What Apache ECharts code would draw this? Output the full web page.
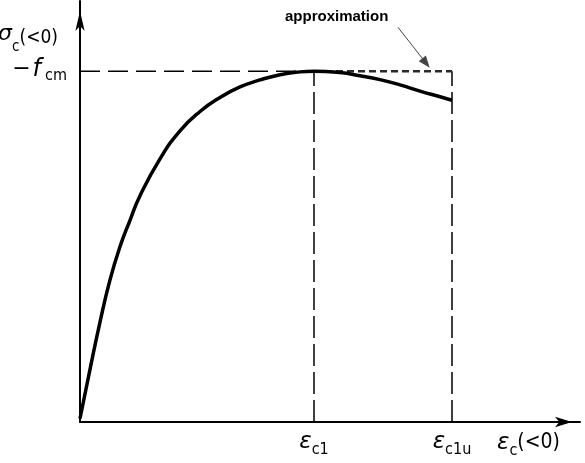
<!DOCTYPE html>
<html>
<head>
<meta charset="utf-8">
<script src="https://cdn.jsdelivr.net/npm/echarts@6/dist/echarts.min.js"></script>
<style>
html,body{margin:0;padding:0;background:#fff;}
#chart{width:585px;height:463px;}
</style>
</head>
<body>
<div id="chart"></div>
<script>
// ---- data (strain in arbitrary units, stress normalised to f_cm) ----
const strain = [0.0, 0.1, 0.2, 0.3, 0.4, 0.5, 0.6, 0.8, 1.0, 1.2, 1.4, 1.6, 1.8, 2.0, 2.2, 2.34, 2.6, 2.8, 3.0, 3.2, 3.4, 3.6, 3.72];
const stress = [0.01, 0.15, 0.285, 0.405, 0.50, 0.575, 0.645, 0.75, 0.83, 0.885, 0.925, 0.955, 0.975, 0.99, 0.998, 1.0, 0.996, 0.987, 0.976, 0.961, 0.943, 0.927, 0.917];
const epsC1 = 2.34;
const epsC1u = 3.72;
const fcm = 1.0;
const xTickValues = [epsC1, epsC1u];
const xTickSubs = ['c1', 'c1u'];
const yTickValues = [fcm];
const annotationText = 'approximation';
const annotationArrow = [[3.18, 1.125], [3.46, 1.023]];

const curve = strain.map((x, i) => [x, stress[i]]);

const subFont = '"DejaVu Sans Condensed","Liberation Sans Narrow","DejaVu Sans",sans-serif';
const chart = echarts.init(document.getElementById('chart'), null, {renderer: 'canvas'});

const option = {
  animation: false,
  backgroundColor: '#fff',
  grid: {left: 80, right: 5, top: 1, bottom: 41, containLabel: false, outerBoundsMode: 'none'},
  xAxis: {
    type: 'value', min: 0, max: 5,
    axisLine: {show: true, lineStyle: {color: '#000', width: 2}, symbol: ['none', 'arrow'], symbolSize: [8, 17], symbolOffset: [0, -8]},
    axisTick: {show: false},
    splitLine: {show: false},
    axisLabel: {
      customValues: xTickValues,
      margin: 9,
      formatter: function (v) {
        const i = xTickValues.indexOf(v);
        return '{e|ε}{s|' + (i >= 0 ? xTickSubs[i] : '') + '}';
      },
      rich: {
        e: {fontFamily: '"DejaVu Sans",sans-serif', fontStyle: 'italic', fontSize: 23, color: '#000', lineHeight: 24, verticalAlign: 'top'},
        s: {fontFamily: subFont, fontSize: 16, color: '#000', lineHeight: 16, verticalAlign: 'bottom', padding: [0, 0, -3, 0]}
      }
    },
    name: '{e|ε}{s|c}{p|(<0)}',
    nameLocation: 'end',
    nameGap: -83,
    nameTextStyle: {
      align: 'left', verticalAlign: 'top', padding: [10, 0, 0, 0],
      rich: {
        e: {fontFamily: '"DejaVu Sans",sans-serif', fontStyle: 'italic', fontSize: 23, color: '#000', lineHeight: 24, verticalAlign: 'top'},
        s: {fontFamily: subFont, fontSize: 16, color: '#000', lineHeight: 16, verticalAlign: 'bottom', padding: [0, 0, -3, 0]},
        p: {fontFamily: subFont, fontSize: 21, color: '#000', lineHeight: 24, verticalAlign: 'top'}
      }
    }
  },
  yAxis: {
    type: 'value', min: 0, max: 1.2,
    axisLine: {show: true, lineStyle: {color: '#000', width: 2}, symbol: ['none', 'arrow'], symbolSize: [7, 20], symbolOffset: [0, -10]},
    axisTick: {show: false},
    splitLine: {show: false},
    axisLabel: {
      customValues: yTickValues,
      margin: 13,
      formatter: function () { return '{m|−}{f|f}{s|cm}'; },
      rich: {
        m: {fontFamily: '"DejaVu Sans",sans-serif', fontSize: 22, color: '#000', lineHeight: 26, verticalAlign: 'top', padding: [0, 2, 8, 0]},
        f: {fontFamily: '"DejaVu Sans",sans-serif', fontStyle: 'italic', fontSize: 24, color: '#000', lineHeight: 26, verticalAlign: 'top', padding: [0, 0, 8, 0]},
        s: {fontFamily: subFont, fontSize: 16, color: '#000', lineHeight: 14, verticalAlign: 'bottom', padding: [0, 0, 0, 4]}
      }
    },
    name: '{e|σ}{s|c}{p|(<0)}',
    nameLocation: 'end',
    nameGap: -34,
    nameTextStyle: {
      align: 'right', verticalAlign: 'middle', padding: [0, 22, 0, 0],
      rich: {
        e: {fontFamily: '"DejaVu Sans",sans-serif', fontStyle: 'italic', fontSize: 22, color: '#000', lineHeight: 24, verticalAlign: 'top'},
        s: {fontFamily: subFont, fontSize: 15, color: '#000', lineHeight: 16, verticalAlign: 'bottom', padding: [0, 0, -8, 0]},
        p: {fontFamily: subFont, fontSize: 19, color: '#000', lineHeight: 24, verticalAlign: 'top', padding: [6, 0, 0, 0]}
      }
    }
  },
  graphic: [{
    type: 'text', left: 285, top: 9,
    style: {text: annotationText, font: 'bold 15px "Liberation Sans", Arial, sans-serif', fill: '#000'}
  }],
  series: [
    {
      type: 'line', data: [[0, fcm], [epsC1, fcm]], symbol: 'none', silent: true,
      lineStyle: {color: '#000', width: 1.5, type: [20, 8]}, z: 2
    },
    {
      type: 'line', data: [[epsC1, 0], [epsC1, fcm]], symbol: 'none', silent: true,
      lineStyle: {color: '#000', width: 1.5, type: [22, 6]}, z: 2
    },
    {
      type: 'line', data: [[epsC1u, 0], [epsC1u, fcm]], symbol: 'none', silent: true,
      lineStyle: {color: '#000', width: 1.5, type: [22, 6]}, z: 2
    },
    {
      type: 'line', data: [[epsC1, fcm], [epsC1u, fcm]], symbol: 'none', silent: true,
      lineStyle: {color: '#2a2a2a', width: 2.5, type: [7, 4]}, z: 3,
      markLine: {
        silent: true, symbol: ['none', 'triangle'], symbolSize: [9, 12],
        lineStyle: {color: '#444', width: 1, type: 'solid'},
        label: {show: false},
        data: [[{coord: annotationArrow[0]}, {coord: annotationArrow[1]}]]
      }
    },
    {
      type: 'line', data: curve, smooth: 0.5, symbol: 'none', silent: true,
      lineStyle: {color: '#000', width: 3.5}, z: 4
    }
  ]
};
chart.setOption(option);
</script>
</body>
</html>
